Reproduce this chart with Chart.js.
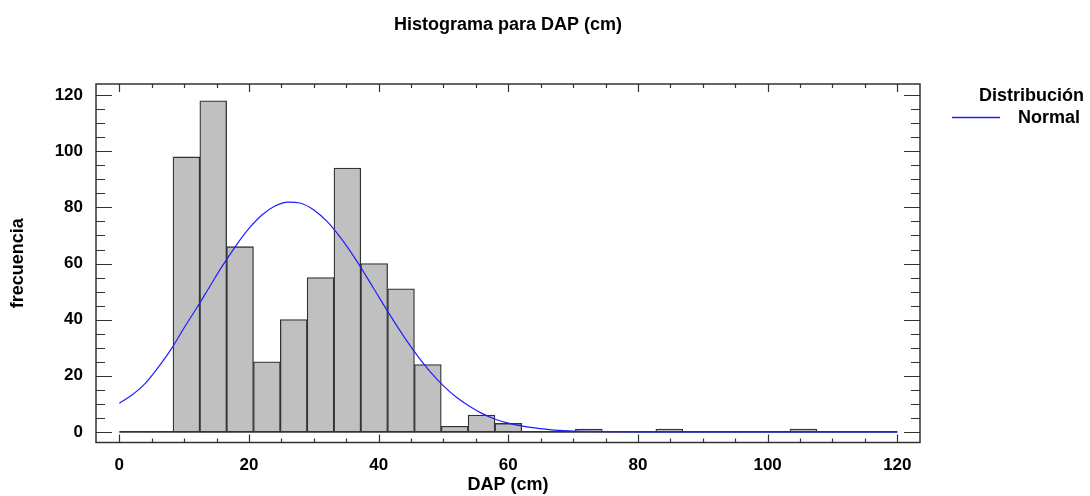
<!DOCTYPE html>
<html>
<head>
<meta charset="utf-8">
<title>Histograma para DAP (cm)</title>
<script src="https://cdn.jsdelivr.net/npm/chart.js@4.4.1/dist/chart.umd.min.js"></script>
<style>
  html, body { margin: 0; padding: 0; background: #fff; }
  #wrap { position: relative; width: 1090px; height: 496px; }
</style>
</head>
<body>
<div id="wrap"><canvas id="histChart" width="1090" height="496"></canvas></div>
<script>
// ── data ──────────────────────────────────────────────
const binLow = 0;
const binHigh = 120;
const binCounts = [0, 0, 98, 118, 66, 25, 40, 55, 94, 60, 51, 24, 2, 6, 3, 0, 0, 1, 0, 0, 1, 0, 0, 0, 0, 1, 0, 0, 0];

// fitted normal curve, read at these DAP values
const normalX = [0, 2, 4, 6, 8, 10, 12, 14, 16, 18, 20, 22, 24, 26, 28, 30, 32, 34, 36, 38,
                 40, 42, 44, 46, 48, 50, 52, 54, 56, 58, 60, 62, 64, 66, 68, 70, 72, 76, 80, 120];
const normalY = [10.2, 13.2, 17.3, 23, 29.5, 37.1, 44.4, 52, 59.5, 66.4, 72.5, 77.3, 80.5, 81.9, 81.5, 79.1, 75.1, 69.6, 63.1, 55.8,
                 48.2, 40.7, 33.6, 27.1, 21.3, 16.4, 12.3, 9.1, 6.5, 4.5, 3.1, 2.1, 1.4, 0.9, 0.5, 0.3, 0.2, 0.05, 0, 0];

const axisTicks = [0, 20, 40, 60, 80, 100, 120];

const FONT = "'Liberation Sans', Arial, sans-serif";
const CURVE_COLOR = '#1e1eff';
const EDGE_COLOR = '#333333';

const binWidth = (binHigh - binLow) / binCounts.length;
const barData = binCounts.map((c, i) => ({ x: binLow + (i + 0.5) * binWidth, y: c }));
const curveData = normalX.map((x, i) => ({ x: x, y: normalY[i] }));
const baseData = [{ x: binLow, y: 0 }, { x: binHigh, y: 0 }];

// frame, inward ticks, title and legend
const framePlugin = {
  id: 'framePlugin',
  afterDraw(chart) {
    const ctx = chart.ctx;
    const a = chart.chartArea;
    const xs = chart.scales.x;
    const ys = chart.scales.y;
    ctx.save();
    ctx.strokeStyle = EDGE_COLOR;
    ctx.lineWidth = 1.5;
    ctx.strokeRect(a.left, a.top, a.right - a.left, a.bottom - a.top);

    ctx.lineWidth = 1.2;
    ctx.beginPath();
    for (let v = 0; v <= 120; v += 5) {
      const major = v % 20 === 0;
      const px = Math.round(xs.getPixelForValue(v)) + 0.5;
      const lx = major ? 8 : 4;
      ctx.moveTo(px, a.bottom); ctx.lineTo(px, a.bottom - lx);
      ctx.moveTo(px, a.top); ctx.lineTo(px, a.top + lx);
      const py = Math.round(ys.getPixelForValue(v)) + 0.5;
      const ly = major ? 16 : 9;
      ctx.moveTo(a.left, py); ctx.lineTo(a.left + ly, py);
      ctx.moveTo(a.right, py); ctx.lineTo(a.right - ly, py);
    }
    ctx.stroke();

    // chart title
    ctx.fillStyle = '#000';
    ctx.font = 'bold 18px ' + FONT;
    ctx.textAlign = 'center';
    ctx.textBaseline = 'alphabetic';
    ctx.fillText('Histograma para DAP (cm)', (a.left + a.right) / 2, 30);

    // legend
    ctx.textAlign = 'right';
    ctx.fillText('Distribución', 1084, 101);
    ctx.fillText('Normal', 1080, 123);
    ctx.strokeStyle = CURVE_COLOR;
    ctx.lineWidth = 1.3;
    ctx.beginPath();
    ctx.moveTo(952, 117.5);
    ctx.lineTo(1000, 117.5);
    ctx.stroke();
    ctx.restore();
  }
};

new Chart(document.getElementById('histChart').getContext('2d'), {
  type: 'bar',
  data: {
    datasets: [
      {
        type: 'line',
        label: 'Normal',
        data: curveData,
        borderColor: CURVE_COLOR,
        borderWidth: 1.2,
        pointRadius: 0,
        cubicInterpolationMode: 'monotone',
        fill: false,
        order: 0,
      },
      {
        type: 'line',
        label: 'base',
        data: baseData,
        borderColor: EDGE_COLOR,
        borderWidth: 1.6,
        pointRadius: 0,
        fill: false,
        order: 1,
      },
      {
        type: 'bar',
        label: 'frecuencia',
        data: barData,
        backgroundColor: '#c0c0c0',
        borderColor: EDGE_COLOR,
        borderWidth: 1.3,
        borderSkipped: 'start',
        barPercentage: 1,
        categoryPercentage: 1,
        order: 2,
      },
    ],
  },
  options: {
    responsive: false,
    animation: false,
    layout: { padding: { left: 0, top: 84, right: 170, bottom: 0 } },
    plugins: {
      legend: { display: false },
      tooltip: { enabled: false },
    },
    scales: {
      x: {
        type: 'linear',
        min: -3.6,
        max: 123.5,
        offset: false,
        afterBuildTicks: (s) => { s.ticks = axisTicks.map(v => ({ value: v })); },
        afterFit: (s) => { s.height = 53.5; },
        grid: { display: false, offset: false },
        border: { display: false },
        ticks: {
          color: '#000',
          padding: 5,
          maxRotation: 0,
          font: { family: FONT, size: 17, weight: 'bold' },
        },
        title: {
          display: true,
          text: 'DAP (cm)',
          color: '#000',
          padding: { top: 0, bottom: 0 },
          font: { family: FONT, size: 18, weight: 'bold' },
        },
      },
      y: {
        min: -3.8,
        max: 124,
        afterBuildTicks: (s) => { s.ticks = axisTicks.map(v => ({ value: v })); },
        afterFit: (s) => { s.width = 96; },
        grid: { display: false },
        border: { display: false },
        ticks: {
          color: '#000',
          padding: 5,
          font: { family: FONT, size: 17, weight: 'bold' },
        },
        title: {
          display: true,
          text: 'frecuencia',
          color: '#000',
          padding: { top: 7, bottom: 0 },
          font: { family: FONT, size: 18, weight: 'bold' },
        },
      },
    },
  },
  plugins: [framePlugin],
});
</script>
</body>
</html>
